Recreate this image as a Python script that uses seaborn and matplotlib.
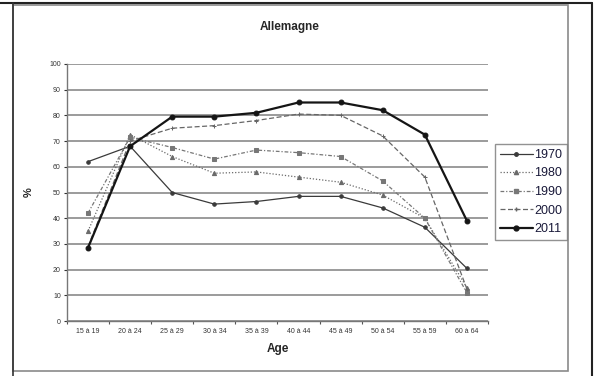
import matplotlib
matplotlib.use("Agg")
import matplotlib.pyplot as plt
import seaborn as sns
import pandas as pd
from matplotlib.patches import Rectangle
from matplotlib.lines import Line2D

ages = ["15 à 19", "20 à 24", "25 à 29", "30 à 34", "35 à 39",
        "40 à 44", "45 à 49", "50 à 54", "55 à 59", "60 à 64"]
v1970 = [62, 68, 50, 45.5, 46.5, 48.5, 48.5, 44, 36.5, 20.5]
v1980 = [35, 72.5, 64, 57.5, 58, 56, 54, 49, 40, 13]
v1990 = [42, 71.5, 67.5, 63, 66.5, 65.5, 64, 54.5, 40, 11]
v2000 = [29, 70, 75, 76, 78, 80.5, 80, 72, 56, 12.5]
v2011 = [28.5, 68, 79.5, 79.5, 81, 85, 85, 82, 72.5, 39]
years = ["1970", "1980", "1990", "2000", "2011"]
series = [v1970, v1980, v1990, v2000, v2011]

df = pd.concat(
    [pd.DataFrame({"Age": ages, "pct": vals, "year": y, "pos": range(len(ages))})
     for y, vals in zip(years, series)],
    ignore_index=True,
)

sns.set_theme(style="white")
plt.rcParams["font.family"] = ["Liberation Sans", "DejaVu Sans"]

styles = {
    "1970": dict(color="#3a3a3a", lw=0.9, ls="-", marker="o", ms=2.5),
    "1980": dict(color="#6a6a6a", lw=0.9, ls=(0, (1, 1.5)), marker="^", ms=3.0),
    "1990": dict(color="#777777", lw=0.9, ls=(0, (3, 1.5, 1, 1.5)), marker="s", ms=2.5),
    "2000": dict(color="#666666", lw=0.9, ls=(0, (4, 2)), marker="+", ms=3.5),
    "2011": dict(color="#151515", lw=1.6, ls="-", marker="o", ms=3.5),
}

fig = plt.figure(figsize=(5.98, 3.76), dpi=100)
ax = fig.add_axes([0.112, 0.146, 0.704, 0.684])

for y in years:
    st = styles[y]
    sub = df[df["year"] == y]
    sns.lineplot(data=sub, x="pos", y="pct", ax=ax, color=st["color"],
                 linewidth=st["lw"], linestyle=st["ls"], marker=st["marker"],
                 markersize=st["ms"], markeredgecolor=st["color"],
                 markerfacecolor=st["color"], label=y, legend=False)

ax.set_xlim(-0.5, len(ages) - 0.5)
ax.set_ylim(0, 100)
ax.set_yticks(range(0, 101, 10))
ax.set_xticks(range(len(ages)))
ax.set_xticklabels(ages)
ax.tick_params(axis="both", labelsize=5, colors="#333333", length=2.5,
               width=0.8, direction="out", bottom=True, left=True, pad=2)
ax.tick_params(axis="x", pad=5)
ax.set_xticks([i - 0.5 for i in range(len(ages) + 1)], minor=True)
ax.tick_params(axis="x", which="major", length=0)
ax.tick_params(axis="x", which="minor", length=2.5, width=0.8, color="#555555", bottom=True)
ax.yaxis.grid(True, color="#8a8a8a", linewidth=1.2)
ax.xaxis.grid(False)
ax.set_axisbelow(True)
for side in ["top", "right"]:
    ax.spines[side].set_visible(False)
for side in ["left", "bottom"]:
    ax.spines[side].set_color("#777777")
    ax.spines[side].set_linewidth(1.0)

ax.set_xlabel("Age", fontsize=8.5, fontweight="bold", labelpad=6)
ax.set_ylabel("%", fontsize=8, fontweight="bold", labelpad=11, rotation=90)
fig.text(0.485, 0.927, "Allemagne", ha="center", va="center",
         fontsize=8.5, fontweight="bold")

handles = [Line2D([0], [0], color=styles[y]["color"], lw=styles[y]["lw"],
                  ls=styles[y]["ls"], marker=styles[y]["marker"],
                  ms=styles[y]["ms"]) for y in years]
leg = fig.legend(handles, years, loc="upper left",
                 bbox_to_anchor=(495 / 598, 1 - 144 / 376),
                 frameon=True, fancybox=False, fontsize=9, handlelength=2.6,
                 handletextpad=0.15, borderpad=0.4, labelspacing=0.52,
                 borderaxespad=0)
leg.get_frame().set_edgecolor("#777777")
leg.get_frame().set_linewidth(1.0)
for t in leg.get_texts():
    t.set_color("#1a1a3a")

# chart frame and page border
W, H = 598.0, 376.0
fig.patches.append(Rectangle((13 / W, 1 - 371 / H), (568 - 13) / W, (371 - 5) / H,
                             transform=fig.transFigure, fill=False,
                             edgecolor="#8a8a8a", linewidth=1.2))
fig.lines.append(Line2D([0, 592 / W], [1 - 3 / H, 1 - 3 / H],
                        transform=fig.transFigure, color="#222222", lw=1.5))
fig.lines.append(Line2D([592 / W, 592 / W], [0, 1 - 3 / H],
                        transform=fig.transFigure, color="#222222", lw=1.5))
fig.lines.append(Line2D([13 / W, 13 / W], [0, 1 - 3 / H],
                        transform=fig.transFigure, color="#333333", lw=1.2))

fig.savefig("out.png", dpi=100)
